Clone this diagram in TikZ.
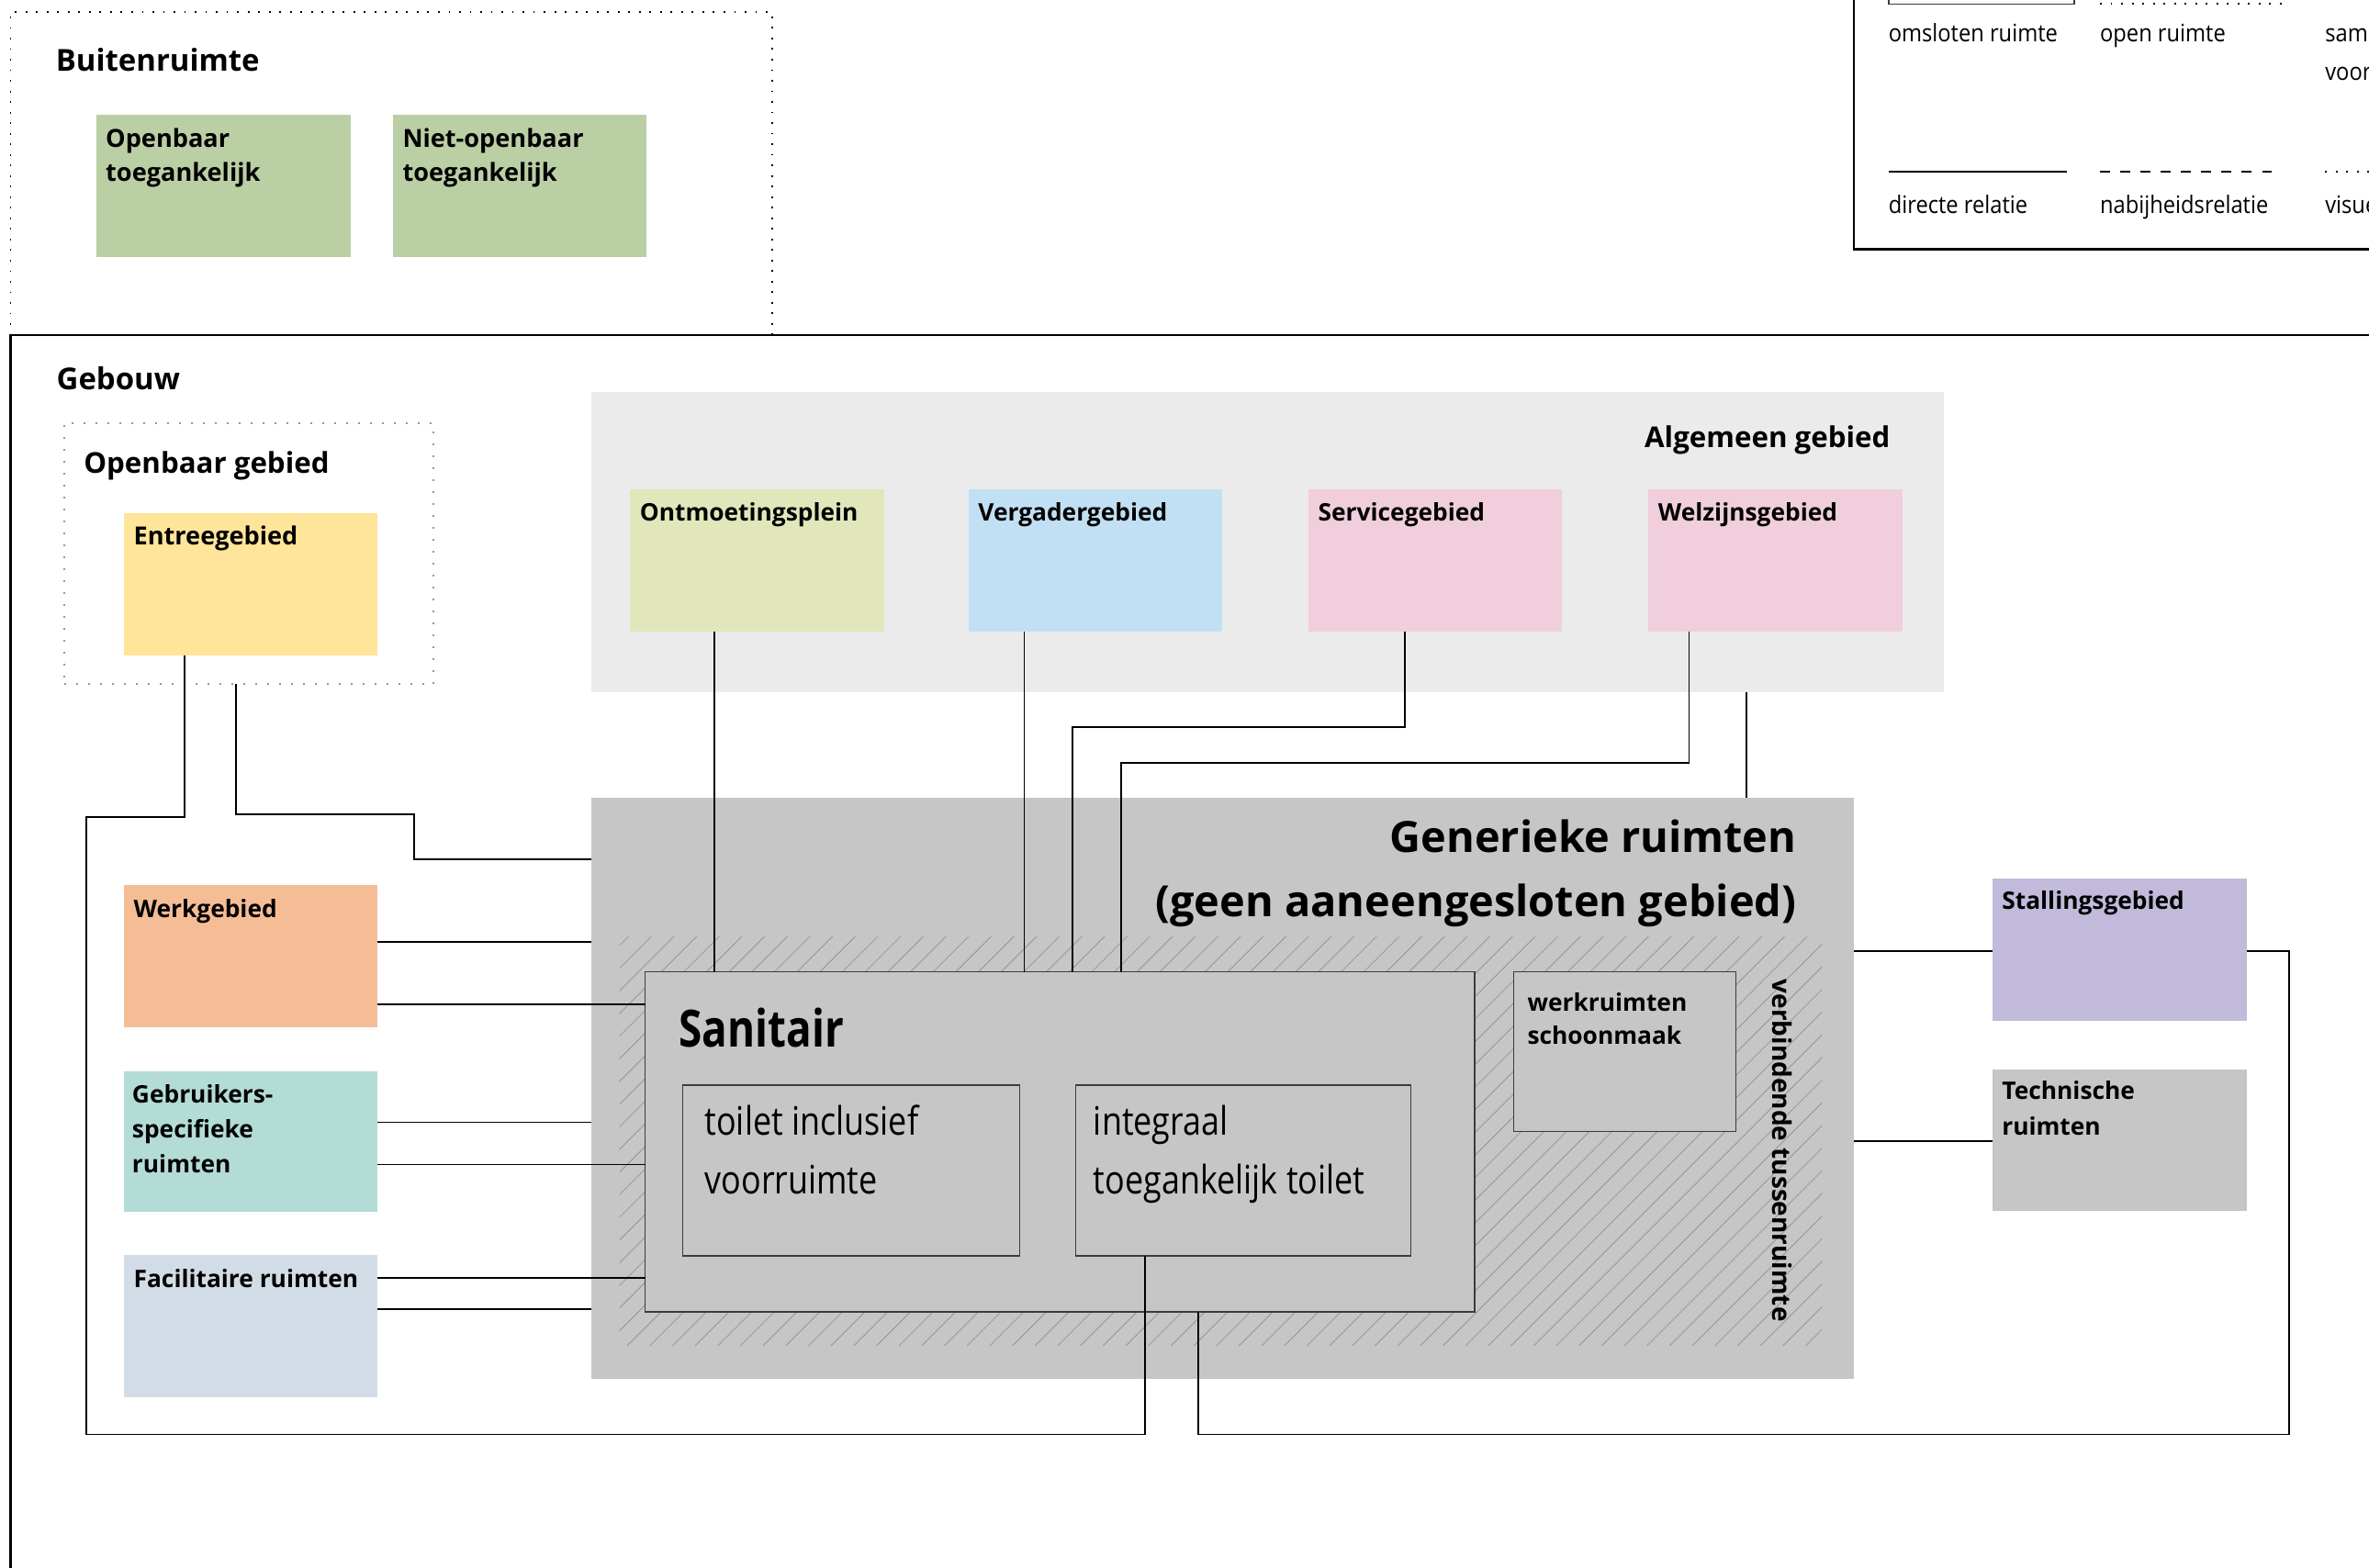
\documentclass[tikz,border=0pt]{standalone}
\usepackage{fontspec}
\setmainfont{Open Sans}
\newfontfamily\condb{Open Sans}[FakeStretch=0.82]
\newfontfamily\condr{Open Sans}[FakeStretch=0.84]
\newfontfamily\legf{Open Sans}[FakeStretch=0.9]
\usetikzlibrary{calc}
\definecolor{cgreen}{RGB}{186,207,164}
\definecolor{centree}{RGB}{255,229,153}
\definecolor{contm}{RGB}{226,231,187}
\definecolor{cverg}{RGB}{194,224,243}
\definecolor{cpink}{RGB}{240,206,220}
\definecolor{calg}{RGB}{235,235,235}
\definecolor{cgen}{RGB}{198,198,198}
\definecolor{cwerk}{RGB}{245,189,150}
\definecolor{cgebr}{RGB}{179,220,214}
\definecolor{cfacil}{RGB}{210,220,230}
\definecolor{cstall}{RGB}{194,186,218}
\definecolor{chatch}{RGB}{150,150,150}
\definecolor{cedge}{RGB}{60,60,60}
\definecolor{cdot}{RGB}{150,150,150}
\begin{document}
\begin{tikzpicture}[x=1pt,y=-1pt,
  area/.style={anchor=north west, inner sep=0pt, outer sep=0pt, draw=none},
  lbl/.style={anchor=base west, inner sep=0pt, outer sep=0pt, align=left, font=\bfseries\fontsize{16}{23}\selectfont},
  conn/.style={draw=black, line width=1pt},
  frameline/.style={draw=black, line width=1.3pt},
  thinedge/.style={draw=cedge, line width=0.8pt},
  hatchline/.style={draw=chatch, line width=0.5pt},
  dotblack/.style={draw=black, line width=1.1pt, dash pattern=on 1.1pt off 5.9pt},
  dotgray/.style={draw=cdot, line width=1.1pt, dash pattern=on 1.1pt off 6.8pt},
  legtext/.style={anchor=base west, inner sep=0pt, outer sep=0pt, font=\legf\fontsize{16}{20}\selectfont}]
\useasboundingbox (0,0) rectangle (1568,1038);
\clip (0,0) rectangle (1568,1038);
\fill[white] (0,0) rectangle (1568,1038);

% ---------- Buitenruimte ----------
\node[area, dotblack, minimum width=504pt, minimum height=214pt] (buiten) at (7,8) {};
\node[lbl, font=\bfseries\fontsize{20}{24}\selectfont] (t-buiten) at (37,47) {Buitenruimte};
\node[area, fill=cgreen, minimum width=168pt, minimum height=94pt] (opentoeg) at (64,76) {};
\node[lbl, font=\bfseries\fontsize{16.5}{22.5}\selectfont] (t-opentoeg) at ($(opentoeg.north west)+(6,43.8)$) {Openbaar\\toegankelijk};
\node[area, fill=cgreen, minimum width=168pt, minimum height=94pt] (nietopen) at (260,76) {};
\node[lbl, font=\bfseries\fontsize{16.5}{22.5}\selectfont] (t-nietopen) at ($(nietopen.north west)+(6.5,43.8)$) {Niet-openbaar\\toegankelijk};

% ---------- Legend ----------
\node[area, frameline, minimum width=400pt, minimum height=190pt] (legend) at (1227,-25) {};
\draw[thinedge, line width=0.9pt] (1250,-30) rectangle (1373,2.6);
\draw[dotblack, line width=1.2pt] (1390,2.4) -- (1512,2.4);
\node[legtext] (l-oms) at (1250,27.4) {omsloten ruimte};
\node[legtext] (l-open) at (1390,27.4) {open ruimte};
\node[legtext] (l-sam) at (1539,27.4) {samen};
\node[legtext] (l-voor) at (1539,53) {voor};
\draw[draw=black, line width=1.4pt] (1250,113.5) -- (1368,113.5);
\draw[draw=black, line width=1.4pt, dash pattern=on 6.5pt off 6.9pt] (1390,113.5) -- (1510,113.5);
\draw[dotblack, line width=1.4pt] (1539,113.5) -- (1580,113.5);
\node[legtext] (l-dir) at (1250,141.5) {directe relatie};
\node[legtext] (l-nab) at (1390,141.5) {nabijheidsrelatie};
\node[legtext] (l-vis) at (1539,141.5) {visuele};

% ---------- Gebouw ----------
\node[area, frameline, minimum width=1700pt, minimum height=900pt] (gebouw) at (7,222) {};
\node[lbl, font=\bfseries\fontsize{20}{24}\selectfont] (t-gebouw) at (37.5,258) {Gebouw};

% Openbaar gebied
\node[area, dotgray, minimum width=244.5pt, minimum height=173pt] (opengeb) at (42.5,280) {};
\node[lbl, font=\bfseries\fontsize{19}{24}\selectfont] (t-opengeb) at (55.5,313.5) {Openbaar gebied};
\node[area, fill=centree, minimum width=168pt, minimum height=94pt] (entree) at (82,340) {};
\node[lbl, font=\bfseries\fontsize{16.5}{23}\selectfont] (t-entree) at ($(entree.north west)+(6.5,20.5)$) {Entreegebied};

% left column
\node[area, fill=cwerk, minimum width=168pt, minimum height=94pt] (werk) at (82,586) {};
\node[lbl] (t-werk) at ($(werk.north west)+(6.5,21.5)$) {Werkgebied};
\node[area, fill=cgebr, minimum width=168pt, minimum height=93pt] (gebr) at (82,709) {};
\node[lbl] (t-gebr) at ($(gebr.north west)+(5.5,67.5)$) {Gebruikers-\\specifieke\\ruimten};
\node[area, fill=cfacil, minimum width=168pt, minimum height=94pt] (facil) at (82,831) {};
\node[lbl] (t-facil) at ($(facil.north west)+(6.5,21.5)$) {Facilitaire ruimten};

% Algemeen gebied
\node[area, fill=calg, minimum width=895pt, minimum height=199pt] (algemeen) at (391.5,259.5) {};
\node[lbl, anchor=base east, font=\bfseries\fontsize{19}{24}\selectfont] (t-algemeen) at (1251,296.5) {Algemeen gebied};
\node[area, fill=contm, minimum width=168pt, minimum height=94pt] (ontm) at (417,324) {};
\node[lbl] (t-ontm) at ($(ontm.north west)+(6.5,21)$) {Ontmoetingsplein};
\node[area, fill=cverg, minimum width=168pt, minimum height=94pt] (verg) at (641,324) {};
\node[lbl] (t-verg) at ($(verg.north west)+(6.5,21)$) {Vergadergebied};
\node[area, fill=cpink, minimum width=168pt, minimum height=94pt] (serv) at (866,324) {};
\node[lbl] (t-serv) at ($(serv.north west)+(6.5,21)$) {Servicegebied};
\node[area, fill=cpink, minimum width=168pt, minimum height=94pt] (welz) at (1091,324) {};
\node[lbl] (t-welz) at ($(welz.north west)+(6.5,21)$) {Welzijnsgebied};

% Generieke ruimten
\node[area, fill=cgen, minimum width=835.5pt, minimum height=385pt] (generiek) at (391.5,528) {};
\begin{scope}
  \clip (410,620) rectangle (1206,891);
  \foreach \i in {0,...,74} { \draw[hatchline] (130+\i*15,891) -- ++(290,-290); }
\end{scope}
\node[lbl, anchor=base east, font=\bfseries\fontsize{28.5}{43}\selectfont] (t-gen1) at (1189,564) {Generieke ruimten};
\node[lbl, anchor=base east, font=\bfseries\fontsize{28.5}{43}\selectfont] (t-gen2) at (1189,607) {(geen aaneengesloten gebied)};

\node[area, fill=cgen, thinedge, minimum width=549pt, minimum height=225pt] (sanitair) at (427,643.4) {};
\node[lbl, font=\condb\bfseries\fontsize{34}{40}\selectfont] (t-sanitair) at (449.5,693) {Sanitair};
\node[area, fill=cgen, thinedge, minimum width=223pt, minimum height=113pt] (toilet) at (452,718.4) {};
\node[lbl, font=\condr\fontsize{26}{39}\selectfont] (t-toilet) at (466.5,790.6) {toilet inclusief\\voorruimte};
\node[area, fill=cgen, thinedge, minimum width=222pt, minimum height=113pt] (integraal) at (711.8,718.4) {};
\node[lbl, font=\condr\fontsize{26}{39}\selectfont] (t-integraal) at (723.8,790.6) {integraal\\toegankelijk toilet};
\node[area, fill=cgen, thinedge, minimum width=147pt, minimum height=105.6pt] (werkr) at (1002,643.4) {};
\node[lbl, font=\bfseries\fontsize{16}{22}\selectfont] (t-werkr) at (1011,691.5) {werkruimten\\schoonmaak};
\node[lbl, rotate=-90, font=\bfseries\fontsize{17}{20}\selectfont] (t-verb) at (1173,648.3) {verbindende tussenruimte};

% right column
\node[area, fill=cstall, minimum width=168.5pt, minimum height=94pt] (stalling) at (1318.6,581.6) {};
\node[lbl] (t-stalling) at ($(stalling.north west)+(6.5,20.6)$) {Stallingsgebied};
\node[area, fill=cgen, minimum width=168.5pt, minimum height=93.5pt] (techn) at (1318.6,707.9) {};
\node[lbl, font=\bfseries\fontsize{16}{23.7}\selectfont] (t-techn) at ($(techn.north west)+(6.5,43.7)$) {Technische\\ruimten};

% ---------- helper coordinates ----------
\coordinate (x57) at (57,0);   \coordinate (x122) at (122,0);
\coordinate (x156) at (156,0); \coordinate (x274) at (274,0);
\coordinate (x473) at (473,0); \coordinate (x678) at (678,0);
\coordinate (x710) at (710,0); \coordinate (x742) at (742,0);
\coordinate (x758) at (758,0); \coordinate (x793) at (793,0);
\coordinate (x930) at (930,0); \coordinate (x1118) at (1118,0);
\coordinate (x1156) at (1156,0); \coordinate (x1515) at (1515,0);
\coordinate (yA) at (0,541);   \coordinate (yB) at (0,539);
\coordinate (yC) at (0,569);   \coordinate (yW1) at (0,623.4);
\coordinate (yW2) at (0,665);  \coordinate (yG1) at (0,743);
\coordinate (yG2) at (0,771);  \coordinate (yF1) at (0,846);
\coordinate (yF2) at (0,866.7);\coordinate (yS) at (0,629.5);
\coordinate (yT) at (0,755.6); \coordinate (yBot) at (0,949.5);
\coordinate (yServ) at (0,481.5); \coordinate (yWelz) at (0,505);

% ---------- connectors ----------
\draw[conn] (entree.south -| x122) -- (x122 |- yA) -- (x57 |- yA) -- (x57 |- yBot) -- (x758 |- yBot) -- (integraal.south -| x758);
\draw[conn] (opengeb.south -| x156) -- (x156 |- yB) -- (x274 |- yB) -- (x274 |- yC) -- (generiek.west |- yC);
\draw[conn] (werk.east |- yW1) -- (generiek.west |- yW1);
\draw[conn] (werk.east |- yW2) -- (sanitair.west |- yW2);
\draw[conn] (gebr.east |- yG1) -- (generiek.west |- yG1);
\draw[conn] (gebr.east |- yG2) -- (sanitair.west |- yG2);
\draw[conn] (facil.east |- yF1) -- (sanitair.west |- yF1);
\draw[conn] (facil.east |- yF2) -- (generiek.west |- yF2);
\draw[conn] (ontm.south -| x473) -- (sanitair.north -| x473);
\draw[conn] (verg.south -| x678) -- (sanitair.north -| x678);
\draw[conn] (serv.south -| x930) -- (x930 |- yServ) -- (x710 |- yServ) -- (sanitair.north -| x710);
\draw[conn] (welz.south -| x1118) -- (x1118 |- yWelz) -- (x742 |- yWelz) -- (sanitair.north -| x742);
\draw[conn] (algemeen.south -| x1156) -- (generiek.north -| x1156);
\draw[conn] (generiek.east |- yS) -- (stalling.west |- yS);
\draw[conn] (stalling.east |- yS) -- (x1515 |- yS) -- (x1515 |- yBot) -- (x793 |- yBot) -- (sanitair.south -| x793);
\draw[conn] (generiek.east |- yT) -- (techn.west |- yT);
\end{tikzpicture}
\end{document}
